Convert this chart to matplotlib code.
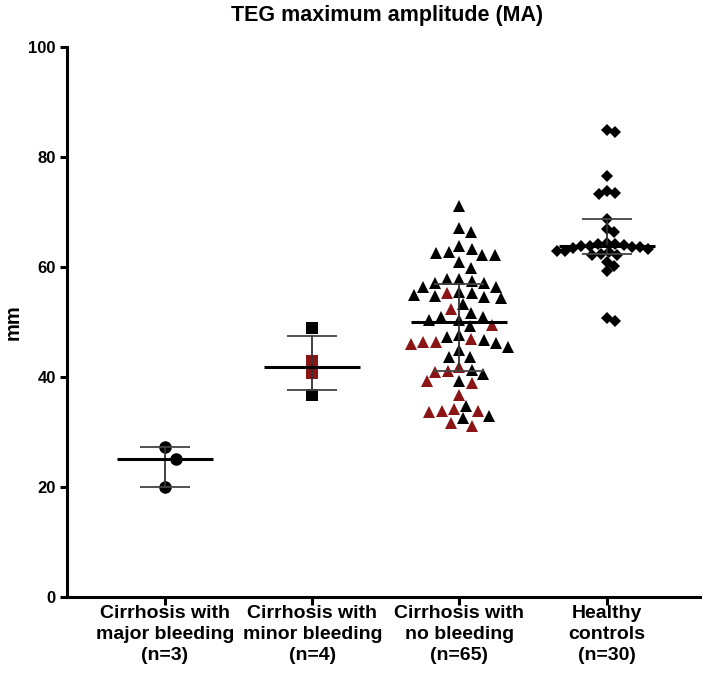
import numpy as np
import matplotlib
matplotlib.use("Agg")
import matplotlib.pyplot as plt

plt.rcParams['font.family'] = ['Liberation Sans', 'DejaVu Sans']
plt.rcParams['font.weight'] = 'bold'

# ---------------- data ----------------
categories = ["Cirrhosis with\nmajor bleeding\n(n=3)",
              "Cirrhosis with\nminor bleeding\n(n=4)",
              "Cirrhosis with\nno bleeding\n(n=65)",
              "Healthy\ncontrols\n(n=30)"]

major_vals = [27.2, 25.1, 20.0]
major_red = [0, 0, 0]

minor_vals = [49.0, 43.0, 40.8, 36.7]
minor_red = [0, 1, 1, 0]

nobleed_vals = [71.1, 67.1, 66.4, 62.7, 63.3, 63.8, 62.1, 62.1, 62.5, 59.9,
                60.9, 56.4, 57.5, 57.9, 57.1, 57.9, 57.1, 56.4, 54.3, 55.2,
                55.3, 55.5, 54.6, 55.0, 54.7, 53.3, 52.4, 51.6, 50.4, 49.5,
                50.4, 51.0, 51.0, 49.2, 46.7, 46.4, 46.9, 46.1, 47.3, 47.6,
                46.4, 46.0, 44.9, 45.5, 43.7, 43.7, 41.1, 41.3, 41.9, 40.9,
                40.5, 39.2, 38.9, 39.2, 36.7, 33.6, 34.2, 33.0, 33.9, 34.8,
                33.9, 32.5, 31.7, 31.1]
nobleed_red = [0, 0, 0, 0, 0, 0, 0, 0, 0, 0,
               0, 0, 0, 0, 0, 0, 0, 0, 0, 0,
               1, 0, 0, 0, 0, 0, 1, 0, 0, 1,
               0, 0, 0, 0, 0, 1, 1, 0, 0, 0,
               1, 1, 0, 0, 0, 0, 1, 0, 1, 1,
               0, 0, 1, 1, 1, 1, 1, 0, 1, 0,
               1, 0, 1, 1]

healthy_vals = [84.9, 84.5, 76.5, 73.2, 73.9, 73.5, 68.7, 67.0, 66.3,
                64.1, 62.9, 62.9, 63.8, 64.1, 62.2, 62.8, 62.2, 62.4, 63.8,
                64.3, 63.7, 63.7, 63.5, 63.2, 64.0,
                60.1, 61.0, 59.2, 50.2, 50.8]
healthy_red = [0] * len(healthy_vals)

medians = [25.1, 41.9, 50.0, 63.8]
q1 = [20.0, 37.6, 41.1, 62.4]
q3 = [27.2, 47.5, 56.9, 68.7]

yticks = [0, 20, 40, 60, 80, 100]

# marker, size, collision distance (px)
groups = [(major_vals, major_red, 'o', 9.0, 16.0),
          (minor_vals, minor_red, 's', 8.0, 11.0),
          (nobleed_vals, nobleed_red, '^', 9.0, 12.5),
          (healthy_vals, healthy_red, 'D', 6.5, 8.5)]

BLACK = '#000000'
RED = '#8b1414'

# ---------------- figure ----------------
W, H = 709, 678
fig = plt.figure(figsize=(W / 100, H / 100), dpi=100)
ax = fig.add_axes([67 / W, 1 - 597 / H, (700 - 67) / W, (597 - 47) / H])
ax.set_xlim(-0.666, 3.634)
ax.set_ylim(0, 100)

fig.canvas.draw()


def swarm(values, d):
    """Beeswarm offsets (in pixels) so that markers do not overlap."""
    ypix = ax.transData.transform(np.column_stack([np.zeros(len(values)), values]))[:, 1]
    order = np.argsort(-ypix)
    xs = np.zeros(len(values))
    placed = []
    for i in order:
        y = ypix[i]
        cands = [0.0]
        blocks = []
        for (px, py) in placed:
            dy = abs(py - y)
            if dy < d:
                w = np.sqrt(d * d - dy * dy)
                blocks.append((px - w, px + w))
                cands += [px - w, px + w]
        best = None
        for c in sorted(cands, key=lambda v: (abs(v), -v)):
            if all(not (lo + 1e-6 < c < hi - 1e-6) for lo, hi in blocks):
                best = c
                break
        xs[i] = best
        placed.append((best, y))
    return xs


px_per_cat = ax.transData.transform((1, 0))[0] - ax.transData.transform((0, 0))[0]

for gi, (vals, red, mk, ms, dist) in enumerate(groups):
    offs = swarm(vals, dist) / px_per_cat
    vals = np.asarray(vals)
    red = np.asarray(red, dtype=bool)
    for flag, col in [(False, BLACK), (True, RED)]:
        sel = red == flag
        if sel.any():
            ax.plot(gi + offs[sel], vals[sel], linestyle='none', marker=mk,
                    markersize=ms, color=col, markeredgewidth=0, zorder=2)
    # median + IQR
    ax.plot([gi - 0.326, gi + 0.326], [medians[gi]] * 2, color='black', lw=2.2,
            zorder=4, solid_capstyle='butt')
    ax.plot([gi, gi], [q1[gi], q3[gi]], color='#333333', lw=1.3, zorder=3)
    for q in (q1[gi], q3[gi]):
        ax.plot([gi - 0.17, gi + 0.17], [q, q], color='#444444', lw=1.3, zorder=3,
                solid_capstyle='butt')

for s in ['top', 'right']:
    ax.spines[s].set_visible(False)
for s in ['left', 'bottom']:
    ax.spines[s].set_linewidth(2.2)

ax.set_yticks(yticks)
ax.set_yticklabels([str(t) for t in yticks], fontsize=12, fontweight='bold')
ax.set_xticks(range(len(categories)))
ax.set_xticklabels(categories, fontsize=14, fontweight='bold', linespacing=1.28)
ax.tick_params(axis='y', length=5, width=2.2, pad=3)
ax.tick_params(axis='x', length=6, width=2.2, pad=0)
ax.set_ylabel('mm', fontsize=14.5, fontweight='bold', labelpad=4)

fig.text(0.5 * (67 + 707) / W, 1 - 15 / H, 'TEG maximum amplitude (MA)',
         ha='center', va='center', fontsize=15.5, fontweight='bold')

fig.savefig('out.png', dpi=100)
